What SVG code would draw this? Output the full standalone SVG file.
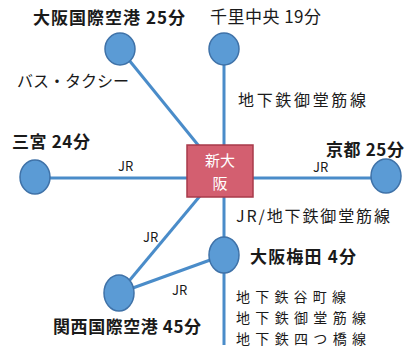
<svg xmlns="http://www.w3.org/2000/svg" width="406" height="352" viewBox="0 0 406 352">
<style>
.ln{stroke:#4a8cc9;stroke-width:3;fill:none}
.st{fill:#5b9bd5;stroke:#3f72a8;stroke-width:1.5}
.t{font-family:"Noto Sans CJK JP","Noto Sans",sans-serif;fill:#1a1a1a}
.b{font-weight:bold}
.r{font-size:13px}
.l{font-size:16px}
.s{font-size:14px}
.n{font-size:17px}
</style>
<rect width="406" height="352" fill="#ffffff"/>
<g id="connectors">
<line class="ln" x1="120" y1="49" x2="220" y2="172"/>
<line class="ln" x1="224" y1="49" x2="224" y2="345"/>
<line class="ln" x1="35" y1="178" x2="386" y2="178"/>
<line class="ln" x1="220" y1="172" x2="119" y2="293"/>
<line class="ln" x1="119" y1="293" x2="224" y2="255"/>
</g>
<g id="labels">
<text class="t l" x="17" y="87">バス・タクシー</text>
<text class="t r" x="118" y="171">JR</text>
<text class="t r" x="313" y="172">JR</text>
<text class="t l" x="238" y="106" textLength="128">地下鉄御堂筋線</text>
<text class="t l" x="236" y="222" textLength="154">JR/地下鉄御堂筋線</text>
<text class="t r" x="143" y="242">JR</text>
<text class="t r" x="172" y="295">JR</text>
<text class="t s" x="236" y="302" textLength="110">地下鉄谷町線</text>
<text class="t s" x="236" y="323" textLength="130">地下鉄御堂筋線</text>
<text class="t s" x="236" y="344" textLength="130">地下鉄四つ橋線</text>
</g>
<g id="shin-osaka">
<rect x="187" y="145" width="66" height="52" fill="#d35f70" stroke="#a83a4a" stroke-width="1.5"/>
<text class="t" x="220" y="166" font-size="15" style="fill:#fff" text-anchor="middle">新大</text>
<text class="t" x="220" y="189" font-size="15" style="fill:#fff" text-anchor="middle">阪</text>
</g>
<g id="itami">
<ellipse class="st" cx="120" cy="49" rx="15" ry="16"/>
<text class="t n b" x="33" y="24" textLength="152">大阪国際空港 25分</text>
</g>
<g id="senri">
<ellipse class="st" cx="224" cy="49" rx="15" ry="16"/>
<text class="t n" x="210" y="23" textLength="111">千里中央 19分</text>
</g>
<g id="sannomiya">
<ellipse class="st" cx="35" cy="177" rx="15" ry="17"/>
<text class="t n b" x="12" y="148" textLength="78">三宮 24分</text>
</g>
<g id="kyoto">
<ellipse class="st" cx="386" cy="176" rx="15" ry="17"/>
<text class="t n b" x="326" y="156" textLength="78">京都 25分</text>
</g>
<g id="umeda">
<ellipse class="st" cx="224" cy="255" rx="15" ry="18"/>
<text class="t n b" x="250" y="263" textLength="106">大阪梅田 4分</text>
</g>
<g id="kansai">
<ellipse class="st" cx="119" cy="293" rx="15" ry="18"/>
<text class="t n b" x="53" y="333" textLength="148">関西国際空港 45分</text>
</g>
</svg>
